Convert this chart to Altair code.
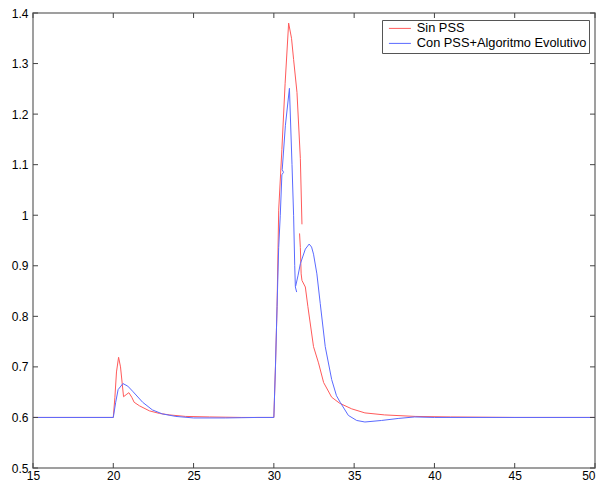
import altair as alt
import pandas as pd

# ---- data ----
series_names = ["Sin PSS", "Con PSS+Algoritmo Evolutivo"]

red_a_x = [15, 20, 20.1, 20.2, 20.33, 20.45, 20.64, 20.8, 20.97, 21.15, 21.3, 21.63, 22.25, 22.87,
           23.5, 24.5, 26, 28, 30, 30.1, 30.2, 30.3, 30.5, 30.7, 30.92, 31.1, 31.23, 31.44, 31.65, 31.75]
red_a_y = [0.6, 0.6, 0.64, 0.69, 0.719, 0.70, 0.641, 0.645, 0.649, 0.64, 0.63, 0.623, 0.613, 0.608,
           0.605, 0.602, 0.601, 0.6, 0.6, 0.7, 0.82, 1.01, 1.13, 1.26, 1.38, 1.35, 1.308, 1.243, 1.112, 0.982]
red_b_x = [31.6, 31.65, 31.7, 31.75, 31.96, 32.12, 32.47, 32.78, 33.1, 33.6, 34.1, 34.85, 35.67,
           36.9, 38.8, 41, 45, 50]
red_b_y = [0.964, 0.936, 0.884, 0.871, 0.858, 0.819, 0.740, 0.708, 0.669, 0.640, 0.628, 0.617, 0.609,
           0.605, 0.602, 0.601, 0.6, 0.6]

blue_a_x = [15, 20, 20.15, 20.3, 20.6, 20.9, 21.2, 21.83, 22.43, 23.05, 23.9, 25, 27, 29, 30, 30.1,
            30.2, 30.3, 30.4, 30.5, 30.6, 30.52, 30.72, 30.97, 31.13, 31.23, 31.3, 31.34, 31.42]
blue_a_y = [0.6, 0.6, 0.63, 0.655, 0.667, 0.662, 0.652, 0.630, 0.615, 0.607, 0.602, 0.599, 0.599, 0.6,
            0.6, 0.7, 0.82, 0.936, 1.0, 1.08, 1.085, 1.09, 1.178, 1.251, 1.10, 1.0, 0.9, 0.858, 0.848]
blue_b_x = [31.36, 31.5, 31.65, 31.96, 32.2, 32.35, 32.47, 32.68, 32.89, 33.2, 33.6, 33.9, 34.13,
            34.64, 35.16, 35.67, 36.7, 37.74, 38.77, 40, 50]
blue_b_y = [0.86, 0.88, 0.904, 0.933, 0.943, 0.937, 0.923, 0.884, 0.825, 0.74, 0.675, 0.643, 0.630,
            0.604, 0.594, 0.591, 0.594, 0.598, 0.601, 0.6, 0.6]

x_ticks = [15, 20, 25, 30, 35, 40, 45, 50]
y_ticks = [0.5, 0.6, 0.7, 0.8, 0.9, 1, 1.1, 1.2, 1.3, 1.4]

rows = []
def add(name, seg, xs, ys):
    for i, (a, b) in enumerate(zip(xs, ys)):
        rows.append({"series": name, "seg": seg, "i": i, "x": a, "y": b})

add(series_names[0], "ra", red_a_x, red_a_y)
add(series_names[0], "rb", red_b_x, red_b_y)
add(series_names[1], "ba", blue_a_x, blue_a_y)
add(series_names[1], "bb", blue_b_x, blue_b_y)
df = pd.DataFrame(rows)

W, H = 562, 455
xs = alt.Scale(domain=[15, 50], nice=False, zero=False)
ys = alt.Scale(domain=[0.5, 1.4], nice=False, zero=False)

axis_common = dict(grid=False, ticks=False, domain=False, labelFont="Liberation Sans",
                   labelFontSize=12, labelColor="black", title=None, labelFlush=False)
x_axis = alt.Axis(
    values=x_ticks, labelPadding=2,
    labelAlign={"condition": {"test": "datum.value == 50", "value": "right"}, "value": "center"},
    **axis_common,
)
y_axis = alt.Axis(values=y_ticks, format="~g", labelPadding=5, **axis_common)

color = alt.Color(
    "series:N",
    scale=alt.Scale(domain=series_names, range=["#ff5a5a", "#5a6aff"]),
    sort=series_names,
    legend=alt.Legend(
        title=None, orient="none", legendX=349, legendY=7,
        symbolType="M-0.27,0H3.73", symbolSize=121, symbolStrokeWidth=1,
        symbolFillColor="transparent",
        labelFont="Liberation Sans", labelFontSize=12.8, labelColor="black",
        labelLimit=400,
        strokeColor="#555555", fillColor="white", padding=2, rowPadding=1,
        labelOffset=20,
    ),
)

base = alt.Chart(df)
lines = []
for name in series_names:
    lines.append(
        base.transform_filter(alt.datum.series == name)
        .mark_line(strokeWidth=1, clip=True)
        .encode(
            x=alt.X("x:Q", scale=xs, axis=x_axis),
            y=alt.Y("y:Q", scale=ys, axis=y_axis),
            color=color,
            detail="seg:N",
            order="i:Q",
        )
    )

xt = pd.DataFrame({"v": x_ticks})
yt = pd.DataFrame({"v": y_ticks})
tick_col = "#444444"
tb = alt.Chart(xt).mark_rule(color=tick_col).encode(x=alt.X("v:Q", scale=xs, axis=x_axis), y=alt.value(H), y2=alt.value(H - 5))
tt = alt.Chart(xt).mark_rule(color=tick_col).encode(x=alt.X("v:Q", scale=xs, axis=x_axis), y=alt.value(0), y2=alt.value(5))
tl = alt.Chart(yt).mark_rule(color=tick_col).encode(y=alt.Y("v:Q", scale=ys, axis=y_axis), x=alt.value(0), x2=alt.value(5))
tr = alt.Chart(yt).mark_rule(color=tick_col).encode(y=alt.Y("v:Q", scale=ys, axis=y_axis), x=alt.value(W), x2=alt.value(W - 5))

chart = alt.layer(*lines, tb, tt, tl, tr).properties(
    width=W, height=H,
    padding={"left": 25, "top": 5, "right": 1, "bottom": 15},
    autosize=alt.AutoSizeParams(type="none"),
    background="white",
).configure_view(stroke="#808080", strokeWidth=1.5)

chart.save("out.html", embed_options={"renderer": "svg", "actions": False})
